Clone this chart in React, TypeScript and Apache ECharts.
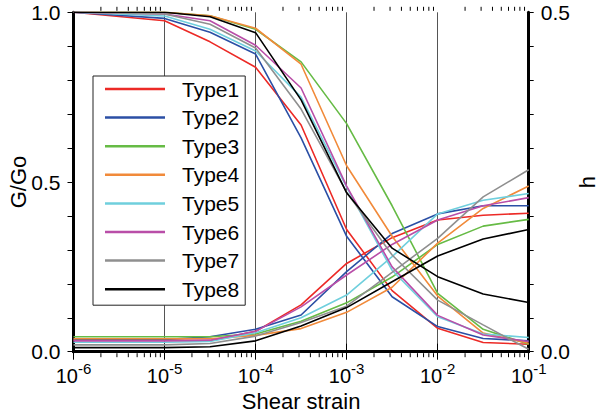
import React, { useEffect, useRef } from "react";
import * as echarts from "echarts";

const strains = [1e-6, 1e-5, 3.16e-5, 1e-4, 3.16e-4, 1e-3, 3.16e-3, 1e-2, 3.16e-2, 1e-1];
const typeNames = ["Type1", "Type2", "Type3", "Type4", "Type5", "Type6", "Type7", "Type8"];
const typeColors = ["#ec2a26", "#2b4fa5", "#66bb45", "#f18a3a", "#6fcfdd", "#b94ea8", "#8f8f8f", "#000000"];

// G/Go (left axis)
const gType1 = [1.0, 0.975, 0.913, 0.838, 0.668, 0.36, 0.18, 0.069, 0.027, 0.022];
const gType2 = [1.0, 0.982, 0.941, 0.877, 0.63, 0.34, 0.162, 0.074, 0.039, 0.032];
const gType3 = [1.0, 1.0, 0.99, 0.95, 0.854, 0.672, 0.43, 0.172, 0.066, 0.022];
const gType4 = [1.0, 1.0, 0.99, 0.953, 0.847, 0.548, 0.34, 0.164, 0.055, 0.025];
const gType5 = [1.0, 0.989, 0.95, 0.886, 0.75, 0.485, 0.24, 0.103, 0.052, 0.042];
const gType6 = [1.0, 0.995, 0.975, 0.903, 0.777, 0.488, 0.25, 0.107, 0.049, 0.03];
const gType7 = [1.0, 0.995, 0.965, 0.895, 0.715, 0.47, 0.285, 0.152, 0.079, 0.007];
const gType8 = [1.0, 1.0, 0.987, 0.94, 0.742, 0.468, 0.305, 0.221, 0.17, 0.145];

// h (right axis)
const hType1 = [0.017, 0.017, 0.016, 0.03, 0.069, 0.13, 0.168, 0.194, 0.201, 0.204];
const hType2 = [0.018, 0.018, 0.022, 0.033, 0.054, 0.118, 0.174, 0.203, 0.215, 0.215];
const hType3 = [0.022, 0.022, 0.022, 0.026, 0.045, 0.072, 0.11, 0.158, 0.185, 0.195];
const hType4 = [0.019, 0.019, 0.019, 0.024, 0.034, 0.058, 0.095, 0.16, 0.211, 0.244];
const hType5 = [0.014, 0.014, 0.015, 0.028, 0.05, 0.0835, 0.14, 0.203, 0.223, 0.233];
const hType6 = [0.016, 0.016, 0.017, 0.03, 0.066, 0.113, 0.158, 0.194, 0.215, 0.227];
const hType7 = [0.01, 0.01, 0.012, 0.023, 0.043, 0.067, 0.117, 0.167, 0.228, 0.268];
const hType8 = [0.006, 0.006, 0.0074, 0.016, 0.038, 0.065, 0.103, 0.141, 0.166, 0.18];

const gData = [gType1, gType2, gType3, gType4, gType5, gType6, gType7, gType8];
const hData = [hType1, hType2, hType3, hType4, hType5, hType6, hType7, hType8];

const decadeExponents = [-6, -5, -4, -3, -2];
const minorMultipliers = [2, 3, 4, 5, 6, 7, 8, 9];

const FONT = "'Liberation Sans', Arial, sans-serif";

export default function App() {
  const ref = useRef<HTMLDivElement>(null);

  useEffect(() => {
    if (!ref.current) return;
    const chart = echarts.init(ref.current, undefined, { renderer: "svg" });

    const minorTicks: number[][] = [];
    decadeExponents.forEach((e) => {
      minorMultipliers.forEach((m) => minorTicks.push([m * Math.pow(10, e), 0]));
    });

    const series: any[] = [];
    typeNames.forEach((name, i) => {
      series.push({
        name,
        type: "line",
        xAxisIndex: 0,
        yAxisIndex: 0,
        data: strains.map((x, j) => [x, gData[i][j]]),
        showSymbol: false,
        symbol: "none",
        lineStyle: { width: 1.6, color: typeColors[i] },
        itemStyle: { color: typeColors[i] },
        z: 3,
      });
      series.push({
        name,
        type: "line",
        xAxisIndex: 0,
        yAxisIndex: 1,
        data: strains.map((x, j) => [x, hData[i][j]]),
        showSymbol: false,
        symbol: "none",
        lineStyle: { width: 1.6, color: typeColors[i] },
        itemStyle: { color: typeColors[i] },
        z: 3,
      });
    });

    series.push({
      type: "custom",
      xAxisIndex: 0,
      yAxisIndex: 0,
      data: minorTicks,
      silent: true,
      clip: false,
      z: 5,
      renderItem: (params: any, api: any) => {
        const x = api.value(0);
        const pb = api.coord([x, 0]);
        const pt = api.coord([x, 1]);
        return {
          type: "group",
          children: [
            { type: "line", shape: { x1: pb[0], y1: pb[1] + 1.5, x2: pb[0], y2: pb[1] + 5.5 }, style: { stroke: "#000", lineWidth: 1 } },
            { type: "line", shape: { x1: pt[0], y1: pt[1] - 1.5, x2: pt[0], y2: pt[1] - 5.5 }, style: { stroke: "#000", lineWidth: 1 } },
          ],
        };
      },
    });

    const axisLine = { show: true, lineStyle: { color: "#000", width: 3 } };

    chart.setOption({
      animation: false,
      backgroundColor: "#fff",
      textStyle: { fontFamily: FONT },
      grid: { left: 73.5, right: 71.3, top: 12.3, bottom: 61.3, containLabel: false, outerBoundsMode: "none" },
      legend: {
        data: typeNames,
        orient: "vertical",
        left: 93,
        top: 76,
        icon: "rect",
        itemWidth: 60,
        itemHeight: 2.5,
        itemGap: 4.6,
        padding: [1, 6, 4, 12],
        backgroundColor: "#fff",
        borderColor: "#222",
        borderWidth: 1,
        textStyle: { fontSize: 21, lineHeight: 24, color: "#000", fontFamily: FONT, padding: [0, 0, 0, 12] },
        selectedMode: false,
      },
      xAxis: [
        {
          type: "log",
          logBase: 10,
          min: 1e-6,
          max: 1e-1,
          position: "bottom",
          name: "Shear strain",
          nameLocation: "middle",
          nameGap: 38,
          nameTextStyle: { fontSize: 22, color: "#000", fontFamily: FONT },
          axisLine,
          axisTick: { show: true, length: 8, lineStyle: { color: "#000", width: 1 } },
          splitLine: { show: true, lineStyle: { color: "#555", width: 1 } },
          axisLabel: {
            margin: 9,
            formatter: (v: number) => `{b|10}{s|${Math.round(Math.log10(v))}}`,
            rich: {
              b: { fontSize: 20, lineHeight: 25, verticalAlign: "bottom", color: "#000", fontFamily: FONT },
              s: { fontSize: 15, lineHeight: 15, verticalAlign: "top", color: "#000", fontFamily: FONT },
            },
          },
        },
        {
          type: "log",
          logBase: 10,
          min: 1e-6,
          max: 1e-1,
          position: "top",
          axisLine,
          axisTick: { show: true, length: 8, lineStyle: { color: "#000", width: 1 } },
          splitLine: { show: false },
          axisLabel: { show: false },
        },
      ],
      yAxis: [
        {
          type: "value",
          min: 0,
          max: 1,
          interval: 0.1,
          name: "G/Go",
          nameLocation: "middle",
          nameGap: 44,
          nameMoveOverlap: false,
          nameTextStyle: { fontSize: 22, color: "#000", fontFamily: FONT },
          axisLine,
          axisTick: { show: true, length: 6, lineStyle: { color: "#000", width: 1 } },
          splitLine: { show: false },
          axisLabel: {
            margin: 13,
            fontSize: 21,
            color: "#000",
            fontFamily: FONT,
            formatter: (v: number) => (Math.round(v * 10) % 5 === 0 ? v.toFixed(1) : ""),
          },
        },
        {
          type: "value",
          min: 0,
          max: 0.5,
          interval: 0.05,
          position: "right",
          name: "h",
          nameLocation: "middle",
          nameGap: 48,
          nameMoveOverlap: false,
          nameTextStyle: { fontSize: 22, color: "#000", fontFamily: FONT },
          axisLine,
          axisTick: { show: true, length: 5, lineStyle: { color: "#000", width: 1 } },
          splitLine: { show: false },
          axisLabel: {
            margin: 12,
            fontSize: 21,
            color: "#000",
            fontFamily: FONT,
            formatter: (v: number) => (Math.round(v * 100) % 50 === 0 ? v.toFixed(1) : ""),
          },
        },
      ],
      series,
    });

    return () => chart.dispose();
  }, []);

  return (
    <div
      ref={ref}
      style={{ position: "fixed", left: 0, top: 0, width: 600, height: 413, background: "#fff" }}
    />
  );
}
